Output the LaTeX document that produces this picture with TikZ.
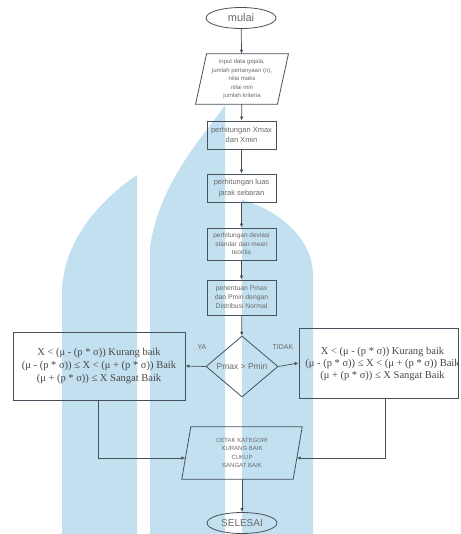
\documentclass[tikz,border=0pt]{standalone}
\usepackage{fontspec}
\setmainfont{Liberation Sans}
\newfontfamily\tms{Liberation Serif}
\usetikzlibrary{shapes.geometric,arrows.meta}
\definecolor{wm}{RGB}{194,224,240}
\definecolor{ln}{RGB}{70,80,90}
\definecolor{tx}{RGB}{105,105,105}
\definecolor{fx}{RGB}{70,70,70}
\tikzset{
  box/.style={draw=ln, line width=0.8pt, minimum width=69pt, inner sep=1pt, align=center, text=tx},
  plain/.style={inner sep=0pt, align=center, text=tx},
  term/.style={draw=ln, line width=0.8pt, ellipse, minimum width=70pt, minimum height=21pt, inner sep=0pt, text=tx},
  fbox/.style={draw=ln, line width=0.8pt, inner sep=0pt, align=center, text=fx, font=\tms\fontsize{10.5}{13}\selectfont},
  arr/.style={draw=ln, line width=0.7pt, -{Latex[length=4pt,width=3.5pt]}},
  lbl/.style={text=tx, font=\fontsize{7}{8}\selectfont, inner sep=0pt}
}
\begin{document}
\begin{tikzpicture}[x=1pt,y=-1pt]
\useasboundingbox (0,0) rectangle (460,534);
% watermark
\fill[wm] (62,534) -- (62,290) .. controls (64,240) and (100,200) .. (137,175) -- (137,534) -- cycle;
\fill[wm] (150,534) -- (150,247) .. controls (160,180) and (205,135) .. (225,105) -- (225,534) -- cycle;
\fill[wm] (242,534) -- (242,200) .. controls (280,210) and (313,240) .. (313,275) -- (313,534) -- cycle;

\node[term, font=\fontsize{11}{12}\selectfont] (mulai) at (241,18) {mulai};
\node[plain, minimum width=81.5pt, minimum height=50pt, font=\fontsize{6}{8.5}\selectfont] (in) at (242,79)
  {input data gejala,\\jumlah pertanyaan (n),\\nilai maks\\nilai min\\jumlah kriteria};
\draw[ln, line width=0.8pt] ([xshift=5.5pt]in.north west) -- ([xshift=5.5pt]in.north east)
  -- ([xshift=-5.5pt]in.south east) -- ([xshift=-5.5pt]in.south west) -- cycle;
\node[box, minimum height=28pt, font=\fontsize{7.5}{10.5}\selectfont] (b1) at (241.5,135) {perhitungan Xmax\\dan Xmin};
\node[box, minimum height=28pt, font=\fontsize{7.5}{10.5}\selectfont] (b2) at (241.5,188) {perhitungan luas\\jarak sebaran};
\node[box, minimum height=32pt, font=\fontsize{6.5}{8.5}\selectfont] (b3) at (241.5,244) {perhitungan deviasi\\standar dan mean\\teoritis};
\node[box, minimum height=35pt, font=\fontsize{6.8}{9}\selectfont] (b4) at (241.5,297.5) {penentuan Pmax\\dan Pmin dengan\\Distribusi Normal};
\node[draw=ln, line width=0.8pt, diamond, aspect=1.18, minimum width=72pt, minimum height=61pt, inner sep=0pt, text=tx, font=\fontsize{8.5}{10}\selectfont] (dia) at (242,366.5) {Pmax > Pmin};
\node[fbox, minimum width=172pt, minimum height=68pt] (left) at (99,366)
  {X < (μ - (p * σ)) Kurang baik\\(μ - (p * σ)) ≤ X < (μ + (p * σ)) Baik\\(μ + (p * σ)) ≤ X Sangat Baik};
\node[draw=ln, line width=0.8pt, minimum width=159pt, minimum height=70pt, inner sep=0pt] (right) at (378.5,363) {};
\node[inner sep=0pt, align=center, text=fx, font=\tms\fontsize{10.5}{12}\selectfont] (rtext) at (382.5,364)
  {X < (μ - (p * σ)) Kurang baik\\(μ - (p * σ)) ≤ X < (μ + (p * σ)) Baik\\(μ + (p * σ)) ≤ X Sangat Baik};
\node[lbl] (ya) at (202,347) {YA};
\node[lbl] (tidak) at (283,347) {TIDAK};
\node[plain, minimum width=111pt, minimum height=52pt, font=\fontsize{6}{8.3}\selectfont] (out) at (242,453)
  {CETAK KATEGORI\\KURANG BAIK\\CUKUP\\SANGAT BAIK};
\draw[ln, line width=0.8pt] ([xshift=4.5pt]out.north west) -- ([xshift=4.5pt]out.north east)
  -- ([xshift=-4.5pt]out.south east) -- ([xshift=-4.5pt]out.south west) -- cycle;
\node[term, font=\fontsize{10}{11}\selectfont] (sel) at (242,523) {SELESAI};

\draw[arr] (mulai) -- (in);
\draw[arr] (in) -- (b1);
\draw[arr] (b1) -- (b2);
\draw[arr] (b2) -- (b3);
\draw[arr] (b3) -- (b4);
\draw[arr] (b4) -- (dia);
\draw[arr] (dia.west) -- (left.east);
\draw[arr] (dia.east) -- (right.west);
\draw[arr] ([xshift=-1pt]left.south) |- ([yshift=-5pt,xshift=-1pt]out.west);
\draw[arr] ([xshift=6.5pt]right.south) |- ([yshift=-5pt,xshift=-1pt]out.east);
\draw[arr] (out) -- (sel);
\end{tikzpicture}
\end{document}
